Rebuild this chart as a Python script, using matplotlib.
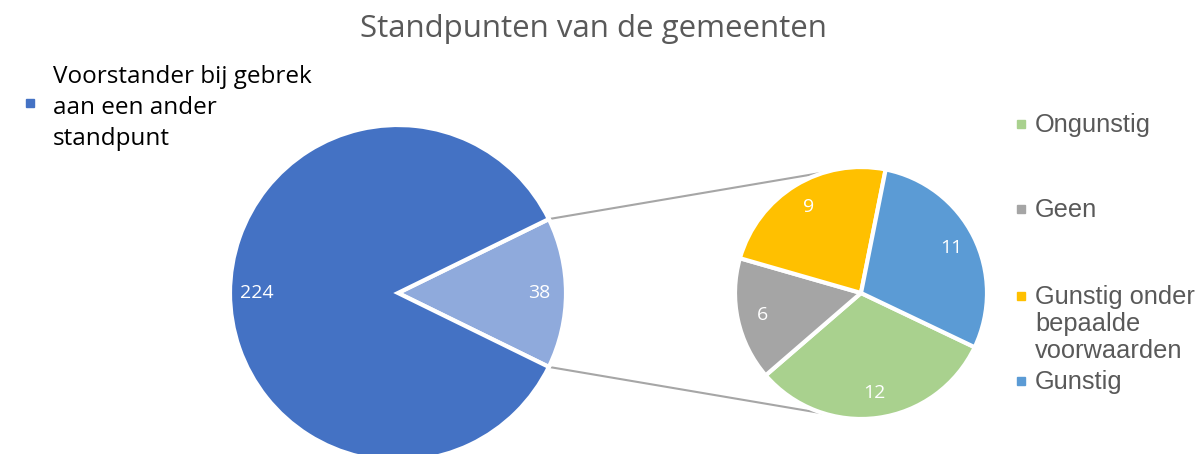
import numpy as np
import matplotlib
matplotlib.use("Agg")
import matplotlib.pyplot as plt

title = "Standpunten van de gemeenten"

main_labels = ["Overig", "Voorstander bij gebrek\naan een ander\nstandpunt"]
main_values = [38, 224]
main_colors = ["#8FAADC", "#4472C4"]

sub_labels = ["Ongunstig", "Geen", "Gunstig onder\nbepaalde\nvoorwaarden", "Gunstig"]
sub_values = [12, 6, 9, 11]
sub_colors = ["#A9D18E", "#A5A5A5", "#FFC000", "#5B9BD5"]

W, H = 1197, 454
fig = plt.figure(figsize=(W / 100, H / 100), dpi=100)
ax = fig.add_axes([0, 0, 1, 1])

# pixel positions (y measured from the bottom)
main_c, main_r = (398, H - 293), 168
sub_c, sub_r = (861, H - 293), 126

main_total = sum(main_values)
half = main_values[0] / main_total * 180
ax.pie(main_values, colors=main_colors, center=main_c, radius=main_r,
       startangle=half, counterclock=False,
       autopct=lambda p: f"{round(p * main_total / 100)}", pctdistance=0.84,
       wedgeprops=dict(edgecolor="white", linewidth=3),
       textprops=dict(color="white", fontsize=14, family="Open Sans"),
       frame=True)

sub_total = sum(sub_values)
ax.pie(sub_values, colors=sub_colors, center=sub_c, radius=sub_r,
       startangle=-25.5, counterclock=False,
       autopct=lambda p: f"{round(p * sub_total / 100)}", pctdistance=0.8,
       wedgeprops=dict(edgecolor="white", linewidth=3),
       textprops=dict(color="white", fontsize=14, family="Open Sans"),
       frame=True)
ax.set_xlim(0, W)
ax.set_ylim(0, H)
ax.set_aspect("equal")
ax.axis("off")

# connector lines
for sign in (1, -1):
    a = np.deg2rad(half * sign)
    b = np.deg2rad(106.6 * sign)
    x0 = main_c[0] + main_r * np.cos(a)
    y0 = main_c[1] + main_r * np.sin(a)
    x1 = sub_c[0] + sub_r * np.cos(b)
    y1 = sub_c[1] + sub_r * np.sin(b)
    ax.plot([x0, x1], [y0, y1], color="#A6A6A6", lw=1.5, zorder=0)

fig.text(593 / W, 1 - 29 / H, title, ha="center", va="center",
         fontsize=22.5, color="#595959", family="Open Sans")

# left legend
ax.plot(30, H - 103, marker="s", ms=6, color=main_colors[1], ls="none")
fig.text(53 / W, 1 - 65 / H, main_labels[1], ha="left", va="top",
         fontsize=17.5, color="black", family="Open Sans", linespacing=1.4)

# right legend
leg_y = [124, 209, 296, 381]
for lab, col, y in zip(sub_labels, sub_colors, leg_y):
    ax.plot(1021, H - y, marker="s", ms=6, color=col, ls="none")
    fig.text(1035 / W, 1 - (y - 11) / H, lab, ha="left", va="top",
             fontsize=18.3, color="#595959", family="Liberation Sans",
             linespacing=1.15)

fig.savefig("out.png", dpi=100)
